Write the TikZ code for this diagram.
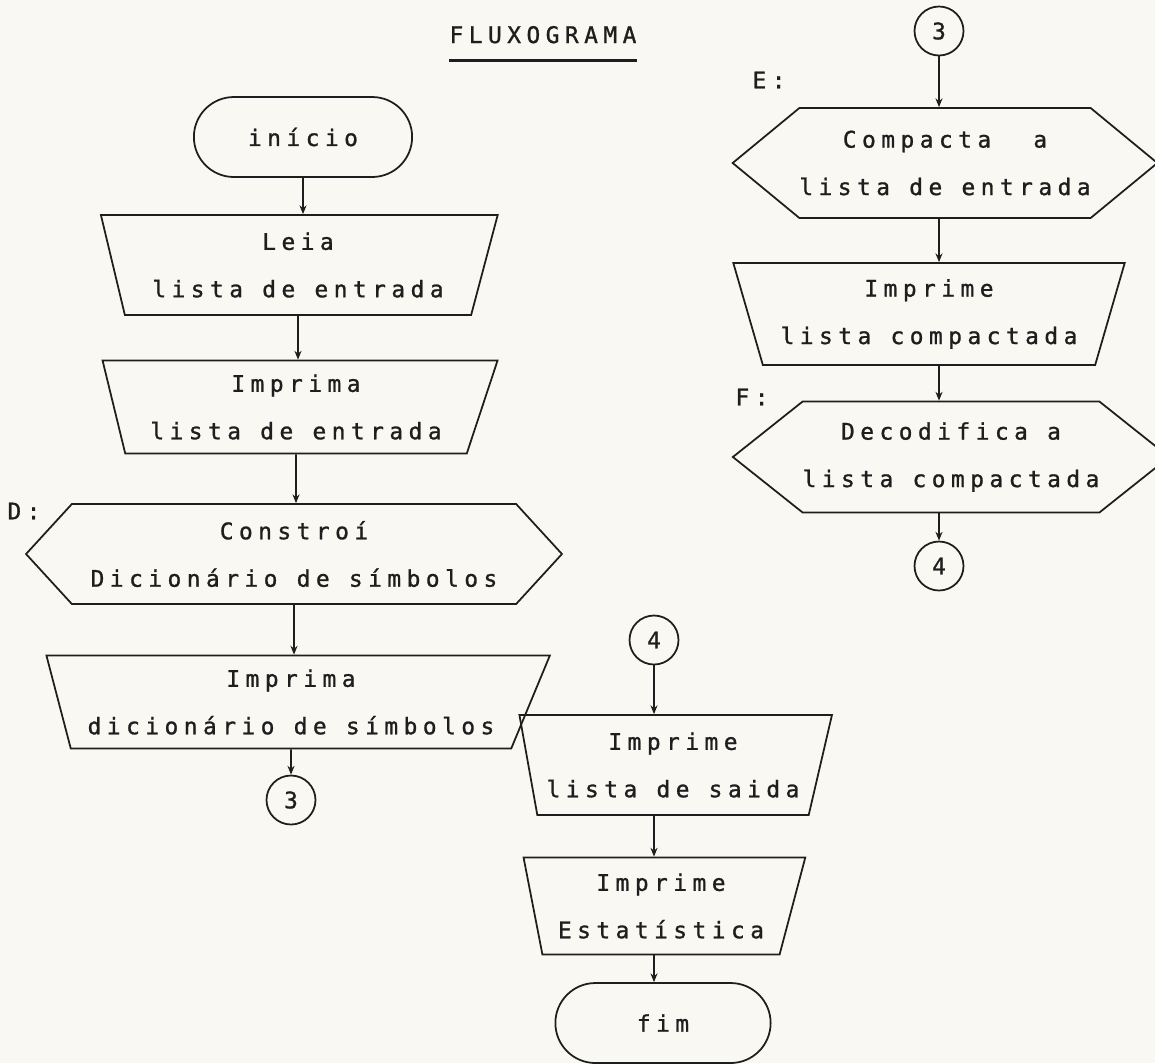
\documentclass[tikz,border=0pt]{standalone}
\usepackage{fontspec}
\usetikzlibrary{arrows.meta,shapes.geometric,shapes.misc,shapes.symbols}
\newfontfamily\typew[LetterSpace=24,FakeBold=1.1]{DejaVu Sans Mono}
\definecolor{paper}{RGB}{249,248,243}
\definecolor{ink}{RGB}{30,30,30}

\begin{document}
\begin{tikzpicture}[
  x=0.02cm, y=-0.02cm,
  txt/.style={font=\typew\fontsize{13}{27}\selectfont, text=ink, align=center},
  term/.style={rounded rectangle, draw=ink, line width=1pt, txt},
  io/.style={trapezium, trapezium stretches=true, draw=ink, line width=1pt,
             txt, inner xsep=0pt, inner ysep=2pt},
  prep/.style={signal, signal to=west and east, draw=ink, line width=1pt,
               txt, inner xsep=0pt},
  conn/.style={circle, draw=ink, line width=1pt, txt, minimum size=0.98cm, inner sep=0pt},
  tag/.style={txt, inner sep=0pt},
  edge/.style={-{Stealth[length=5pt,width=4pt]}, draw=ink, line width=1pt}
]
  \fill[paper] (0,0) rectangle (1155,1063);
  \useasboundingbox (0,0) rectangle (1155,1063);

  \node[tag, anchor=base] (title) at (543,43) {FLUXOGRAMA};
  \draw[ink, line width=1.3pt] ([yshift=-10pt]title.base west) -- ([yshift=-10pt]title.base east);

  % coluna da esquerda
  \node[term, minimum width=4.6cm, minimum height=1.6cm] (lstart) at (303,137) {início};
  \node[io, minimum width=7.96cm, minimum height=2cm,
        trapezium left angle=105.6, trapezium right angle=107.2]
    (lread) at (298,265) {Leia\\lista de entrada};
  \node[io, minimum width=7.92cm, minimum height=1.86cm,
        trapezium left angle=105, trapezium right angle=110]
    (lprint) at (296,407) {Imprima\\lista de entrada};
  \node[prep, minimum width=10.72cm, minimum height=2cm, signal pointer angle=95]
    (lbuild) at (294,554) {Constroí\\Dicionário de símbolos};
  \node[io, minimum width=10.1cm, minimum height=1.86cm,
        trapezium left angle=107.3, trapezium right angle=116.3]
    (lprintdic) at (291,702) {Imprima\\dicionário de símbolos};
  \node[conn] (lconn) at (291,800) {3};
  \node[tag] (dlab) at (24,511) {D:};

  \draw[edge] (lstart) -- (lstart |- lread.north);
  \draw[edge] (lread) -- (lread |- lprint.north);
  \draw[edge] (lprint) -- (lprint |- lbuild.north);
  \draw[edge] (lbuild) -- (lbuild |- lprintdic.north);
  \draw[edge] (lprintdic) -- (lconn);

  % coluna da direita
  \node[conn] (rconn) at (939,31) {3};
  \node[prep, minimum width=8.1cm, minimum height=2.2cm, signal pointer angle=79]
    (rpack) at (945,163) {Compacta\hspace{24pt}a\\lista de entrada};
  \node[io, minimum width=7.84cm, minimum height=2.04cm,
        trapezium left angle=109, trapezium right angle=109]
    (rprint) at (929,314) {Imprime\\lista compactada};
  \node[prep, minimum width=8.56cm, minimum height=2.22cm, signal pointer angle=77]
    (rdecode) at (951,457) {Decodifica a\\lista compactada};
  \node[conn] (rconn2) at (939,566) {4};
  \node[tag] (elab) at (769,80) {E:};
  \node[tag] (flab) at (752,397) {F:};

  \draw[edge] (rconn) -- (rconn |- rpack.north);
  \draw[edge] (rconn |- rpack.south) -- (rconn |- rprint.north);
  \draw[edge] (rconn |- rprint.south) -- (rconn |- rdecode.north);
  \draw[edge] (rconn |- rdecode.south) -- (rconn2);

  % coluna de baixo
  \node[conn] (bconn) at (654,640) {4};
  \node[io, minimum width=6.26cm, minimum height=2cm,
        trapezium left angle=103, trapezium right angle=106.7]
    (bprint) at (673,765) {Imprime\\lista de saida};
  \node[io, minimum width=5.64cm, minimum height=1.94cm,
        trapezium left angle=102.8, trapezium right angle=107.2]
    (bstats) at (661,906) {Imprime\\Estatística};
  \node[term, minimum width=4.54cm, minimum height=1.6cm] (bend) at (663,1023) {fim};

  \draw[edge] (bconn) -- (bconn |- bprint.north);
  \draw[edge] (bconn |- bprint.south) -- (bconn |- bstats.north);
  \draw[edge] (bconn |- bstats.south) -- (bconn |- bend.north);
\end{tikzpicture}
\end{document}
